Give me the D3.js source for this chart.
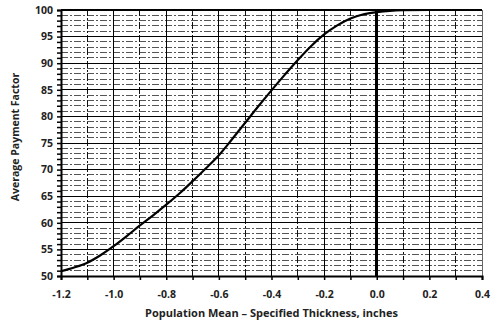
<!DOCTYPE html>
<html>
<head>
<meta charset="utf-8">
<script src="https://cdn.jsdelivr.net/npm/d3@7"></script>
<style>
  html, body { margin: 0; padding: 0; background: #fff; }
  svg { display: block; }
  text { font-family: "Open Sans", "Liberation Sans", sans-serif; font-weight: bold; fill: #222; }
</style>
</head>
<body>
<svg id="chart" width="500" height="325"></svg>
<script>
// Average payment factor versus (population mean - specified thickness)
const thicknessDiff = [-1.2, -1.15, -1.1, -1.05, -1.0, -0.95, -0.9, -0.85, -0.8, -0.75, -0.7, -0.65, -0.6, -0.55, -0.5, -0.45, -0.4, -0.35, -0.3, -0.25, -0.2, -0.15, -0.1, -0.05, 0.0, 0.05, 0.1, 0.2, 0.3, 0.4];
const paymentFactor = [50.9, 51.6, 52.5, 53.9, 55.6, 57.5, 59.5, 61.4, 63.4, 65.5, 67.8, 70.2, 72.7, 75.7, 78.8, 81.9, 84.9, 87.8, 90.6, 93.2, 95.4, 97.1, 98.4, 99.2, 99.6, 99.85, 99.95, 100, 100, 100];
const xTicks = [-1.2, -1.0, -0.8, -0.6, -0.4, -0.2, 0.0, 0.2, 0.4];
const yTicks = [50, 55, 60, 65, 70, 75, 80, 85, 90, 95, 100];
const xLabel = "Population Mean \u2013 Specified Thickness, inches";
const yLabel = "Average Payment Factor";

const svg = d3.select("#chart");
const m = { left: 61, right: 18, top: 10, bottom: 49 };
const W = 500, H = 325;

const x = d3.scaleLinear().domain([-1.2, 0.4]).range([m.left, W - m.right]);
const y = d3.scaleLinear().domain([50, 100]).range([H - m.bottom, m.top]);

const g = svg.append("g");

// minor horizontal grid (every 1 unit)
const yMinor = d3.range(51, 100).filter(v => v % 5 !== 0);
g.append("g").selectAll("line").data(yMinor).join("line")
  .attr("x1", x(-1.2)).attr("x2", x(0.4))
  .attr("y1", d => y(d)).attr("y2", d => y(d))
  .attr("stroke", "#555").attr("stroke-width", 1)
  .attr("stroke-dasharray", "7,2,2,2")
  .attr("shape-rendering", "crispEdges");

// minor vertical grid (odd tenths)
const xMinor = [-1.1, -0.9, -0.7, -0.5, -0.3, -0.1, 0.1, 0.3];
g.append("g").selectAll("line").data(xMinor).join("line")
  .attr("x1", d => x(d)).attr("x2", d => x(d))
  .attr("y1", y(50)).attr("y2", y(100))
  .attr("stroke", "#111").attr("stroke-width", 1)
  .attr("stroke-dasharray", "7,2,2,2")
  .attr("shape-rendering", "crispEdges");

// major horizontal grid
g.append("g").selectAll("line").data(yTicks.filter(v => v > 50)).join("line")
  .attr("x1", x(-1.2)).attr("x2", x(0.4))
  .attr("y1", d => y(d)).attr("y2", d => y(d))
  .attr("stroke", "#000").attr("stroke-width", d => d === 100 ? 2 : 1)
  .attr("shape-rendering", "crispEdges");

// major vertical grid
g.append("g").selectAll("line").data(xTicks.filter(v => v > -1.2)).join("line")
  .attr("x1", d => x(d)).attr("x2", d => x(d))
  .attr("y1", y(50)).attr("y2", y(100))
  .attr("stroke", d => d === 0.4 ? "#666" : "#000")
  .attr("stroke-width", d => Math.abs(d) < 1e-9 ? 3 : 1)
  .attr("shape-rendering", "crispEdges");

// y axis
const yAxis = d3.axisLeft(y).tickValues(d3.range(50, 101, 1)).tickSize(4)
  .tickFormat(d => yTicks.includes(d) ? d : "");
const ya = g.append("g").attr("transform", `translate(${x(-1.2)},0)`).call(yAxis);
ya.select(".domain").attr("stroke", "#000").attr("stroke-width", 2);
ya.selectAll(".tick line").attr("stroke", "#000").attr("stroke-width", 1.5);
ya.selectAll(".tick text").attr("font-size", 10.5).attr("x", -8)
  .attr("font-family", "'Open Sans', sans-serif").attr("font-weight", "bold").attr("fill", "#222");

// x axis
const xAxis = d3.axisBottom(x).tickValues(d3.range(-12, 5).map(v => v / 10)).tickSize(4)
  .tickFormat(d => xTicks.some(t => Math.abs(t - d) < 1e-9) ? d3.format(".1f")(d).replace("\u2212", "-") : "");
const xa = g.append("g").attr("transform", `translate(0,${y(50)})`).call(xAxis);
xa.select(".domain").attr("stroke", "#000").attr("stroke-width", 2);
xa.selectAll(".tick line").attr("stroke", "#000").attr("stroke-width", 1.5);
xa.selectAll(".tick text").attr("font-size", 10.5).attr("y", 15)
  .attr("font-family", "'Open Sans', sans-serif").attr("font-weight", "bold").attr("fill", "#222");

// curve
const line = d3.line().x((d, i) => x(thicknessDiff[i])).y(d => y(d)).curve(d3.curveMonotoneX);
g.append("path").datum(paymentFactor)
  .attr("d", line).attr("fill", "none").attr("stroke", "#000").attr("stroke-width", 2.2);

// axis titles
svg.append("text").attr("x", (x(-1.2) + x(0.4)) / 2).attr("y", 317)
  .attr("text-anchor", "middle").attr("font-size", 11).text(xLabel);
svg.append("text").attr("transform", `translate(19,137) rotate(-90)`)
  .attr("text-anchor", "middle").attr("font-size", 10.5).text(yLabel);
</script>
</body>
</html>
